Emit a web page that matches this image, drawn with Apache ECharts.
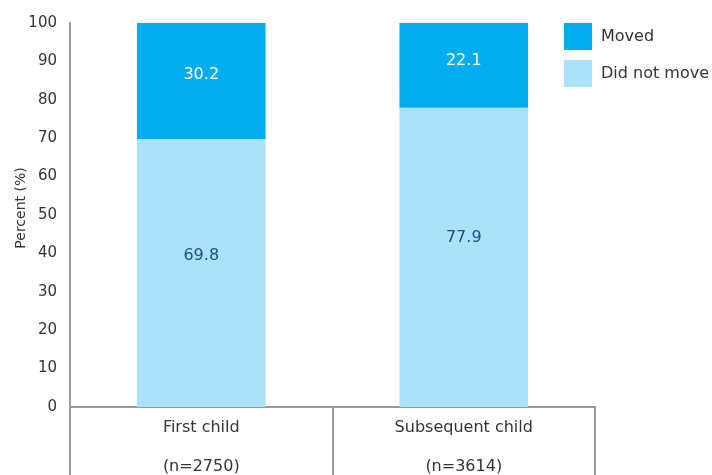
<!DOCTYPE html>
<html><head><meta charset="utf-8">
<script src="https://cdn.jsdelivr.net/npm/echarts@6/dist/echarts.min.js"></script>
<style>html,body{margin:0;padding:0;background:#fff}#c{width:712px;height:475px}</style>
</head><body><div id="c"></div>
<script>
const categories = ['First child\n(n=2750)', 'Subsequent child\n(n=3614)'];
const didNotMove = [69.8, 77.9];
const moved = [30.2, 22.1];
const yTicks = [0, 100, 10];

const font = 'DejaVu Sans';
const chart = echarts.init(document.getElementById('c'), null, {renderer: 'canvas'});
chart.setOption({
  animation: false,
  textStyle: {fontFamily: font},
  grid: {left: 70, right: 117, top: 23, bottom: 68, containLabel: false, outerBoundsMode: 'none'},
  legend: {
    orient: 'vertical', left: 564, top: 23, padding: 0, itemWidth: 28, itemHeight: 27, itemGap: 10,
    icon: 'rect',
    textStyle: {fontFamily: font, fontSize: 16, color: '#333', padding: [0, 0, 0, 4]},
    data: ['Moved', 'Did not move']
  },
  xAxis: {
    type: 'category', data: categories,
    axisLine: {lineStyle: {color: '#999', width: 2}},
    axisTick: {show: true, length: 70, lineStyle: {color: '#999', width: 2}},
    axisLabel: {fontFamily: font, fontSize: 16, color: '#333', lineHeight: 39, margin: 1}
  },
  yAxis: {
    type: 'value', min: yTicks[0], max: yTicks[1], interval: yTicks[2],
    name: 'Percent (%)', nameLocation: 'middle', nameGap: 42, nameMoveOverlap: false,
    nameTextStyle: {fontFamily: font, fontSize: 14, color: '#333', padding: [0, 0, 0, 14]},
    axisLine: {show: true, lineStyle: {color: '#999', width: 2}},
    axisTick: {show: false},
    splitLine: {show: false},
    axisLabel: {fontFamily: font, fontSize: 15, color: '#333', margin: 13}
  },
  series: [
    {name: 'Did not move', type: 'bar', stack: 's', data: didNotMove, barWidth: '49%',
     itemStyle: {color: '#ABE1FA'},
     label: {show: true, position: ['50%', '43.5%'], align: 'center', verticalAlign: 'middle', color: '#1F4E79', fontFamily: font, fontSize: 16}},
    {name: 'Moved', type: 'bar', stack: 's', data: moved, barWidth: '49%',
     itemStyle: {color: '#00AEEF'},
     label: {show: true, position: ['50%', '45%'], align: 'center', verticalAlign: 'middle', color: '#fff', fontFamily: font, fontSize: 16}}
  ]
});
</script></body></html>
